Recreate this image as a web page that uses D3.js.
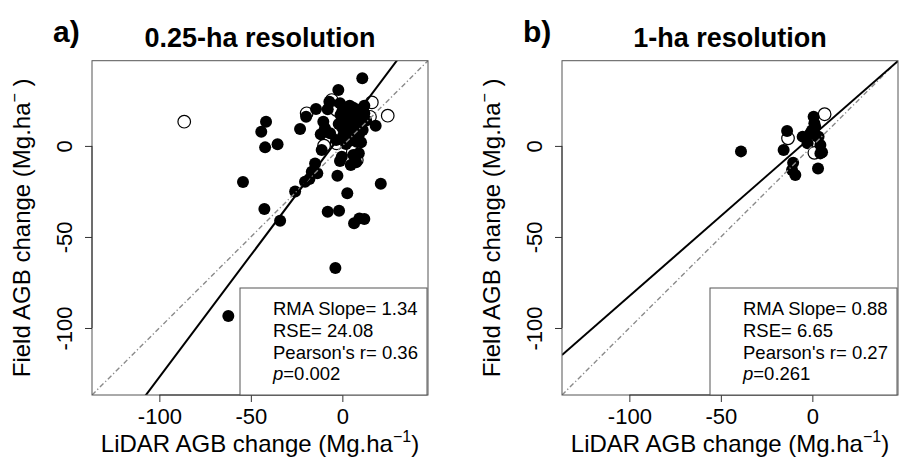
<!DOCTYPE html>
<html>
<head>
<meta charset="utf-8">
<script src="https://cdn.jsdelivr.net/npm/d3@7"></script>
<style>
  body { margin: 0; background: #fff; }
  text { font-family: "Liberation Sans", Arial, Helvetica, sans-serif; fill: #000; }
</style>
</head>
<body>
<div id="vis"></div>
<script>
var w = 899;
var h = 459;

// axis limits (R style, 4% padding added later) and tick values
var lims = [-130, 40];
var tickVals = [-100, -50, 0];

// panel a) 0.25-ha: filled points
var aFilledX = [-41.7, -44.3, -42.2, -35.4, -54.3, -42.6, -34.0, 10.9, -2.2, -19.8, -14.4, -8, -7.1, -1.3, 18.2, 11.1,
  -23.1, -10.4, -9.5, -11.8, -6.7, -11.3, -3.4, 0.6, 7.9, 10.2, 6.9, 4.6, 7.5, -0.3, -1.3, -14.9, -16.7, -13.7, -2.7,
  -18, -20.4, 21, -25.8, 2.7, -8, -1.8, 6.4, 9.3, 12, -3.8, -62.3,
  2, 4, 6, 8, 10, 12, 3, 5, 7, 9, 11, 1, 3, 6, 8, 10, 0, 2, 5, 7, 9, 4, -1, 0, 12, 13, 1, 4, -2, 2, 6, 9];
var aFilledY = [13.3, 7.8, -0.8, 0.9, -19.8, -34.6, -41.1, 37.1, 30.7, 16.0, 20.3, 20.1, 24.3, 23.4, 11.1, 8.7,
  9.3, 13.3, 9.7, 6.4, 6.9, -2.2, 3.2, 6, 2.3, 2.0, 5.1, -10.5, -9.0, -5.9, -8.3, -9.6, -14.2, -15.0, -16.4,
  -18.2, -19.7, -20.8, -25.1, -26.0, -36.1, -35.6, -42.5, -39.8, -40.1, -67, -93.4,
  20, 22, 21, 19, 20, 18, 17, 16, 15, 14, 15, 14, 12, 12, 11, 12, 10, 9, 9, 8, 6, 6, 17, 19, 22, 14, 4, 3, 12, 1, -5, -4];
// panel a) open points
var aOpenX = [-86.4, -5.8, -19.5, -3.1, 16.1, 24.8, 15.1, -10, -3.1, 5.7, 7.9];
var aOpenY = [13.3, 25.2, 17.9, 19.7, 23.9, 16.6, 16.0, 0.1, 1.4, -3.2, -7.7];

// panel b) 1-ha
var bFilledX = [-39, -13.8, -15.7, -5.3, 0.7, 1.1, 1.6, -1.1, -2.6, 2.6, 3.4, 4.4, 5.3, 4.4, 3.1, -10.5, -11.1, -9.3, -0.2];
var bFilledY = [-3.0, 8.2, -2.2, 5.1, 16, 12.4, 10.5, 6.9, 1.4, 5.1, 5.1, 0.5, -3.5, -4.1, -12.4, -9.2, -13.2, -16, 8.5];
var bOpenX = [-13.3, 6.7, 1.1];
var bOpenY = [4.2, 17.4, -3.8];

// RMA fit lines (slope, intercept)
var rmaA = [1.34, 7.0];
var rmaB = [0.88, 5.5];

var statsA = ["RMA Slope= 1.34", "RSE= 24.08", "Pearson's r= 0.36", "0.002"];
var statsB = ["RMA Slope= 0.88", "RSE= 6.65", "Pearson's r= 0.27", "0.261"];

var canvas = d3.select("#vis").append("svg").attr("width", w).attr("height", h);

var pad = (lims[1] - lims[0]) * 0.04;
var dom = [lims[0] - pad, lims[1] + pad];

function drawPanel(off, letter, title, fx, fy, ox, oy, rma, stats, id) {
  var left = 92 + off, right = 428 + off, top = 60.7, bottom = 395;
  var x = d3.scaleLinear().domain(dom).range([left, right]);
  var y = d3.scaleLinear().domain(dom).range([bottom, top]);

  canvas.append("clipPath").attr("id", "clip" + id)
    .append("rect").attr("x", left).attr("y", top).attr("width", right - left).attr("height", bottom - top);

  // points
  var filled = fx.map(function (v, i) { return [v, fy[i]]; });
  var open = ox.map(function (v, i) { return [v, oy[i]]; });
  canvas.append("g").selectAll("circle").data(filled).enter().append("circle")
    .attr("cx", function (d) { return x(d[0]); })
    .attr("cy", function (d) { return y(d[1]); })
    .attr("r", 6)
    .attr("fill", "#000");
  canvas.append("g").selectAll("circle").data(open).enter().append("circle")
    .attr("cx", function (d) { return x(d[0]); })
    .attr("cy", function (d) { return y(d[1]); })
    .attr("r", 6.3)
    .attr("fill", "none")
    .attr("stroke", "#000")
    .attr("stroke-width", 1.2);

  // 1:1 line and RMA line
  var line = d3.line().x(function (d) { return x(d[0]); }).y(function (d) { return y(d[1]); });
  canvas.append("path")
    .attr("d", line([[dom[0], dom[0]], [dom[1], dom[1]]]))
    .attr("clip-path", "url(#clip" + id + ")")
    .attr("stroke", "#8a8a8a").attr("stroke-width", 1.4).attr("fill", "none")
    .attr("stroke-dasharray", "5,2.5,1.2,2.5");
  canvas.append("path")
    .attr("d", line([[dom[0], rma[0] * dom[0] + rma[1]], [dom[1], rma[0] * dom[1] + rma[1]]]))
    .attr("clip-path", "url(#clip" + id + ")")
    .attr("stroke", "#000").attr("stroke-width", 2).attr("fill", "none");

  // box
  canvas.append("rect")
    .attr("x", left).attr("y", top).attr("width", right - left).attr("height", bottom - top)
    .attr("fill", "none").attr("stroke", "#555").attr("stroke-width", 1);

  // axes
  var xAxis = canvas.append("g").attr("transform", "translate(0," + bottom + ")")
    .call(d3.axisBottom(x).tickValues(tickVals).tickSize(7).tickSizeOuter(0).tickFormat(function (d) { return String(d); }));
  xAxis.select(".domain").remove();
  xAxis.selectAll("line").attr("stroke", "#333");
  xAxis.selectAll("text").attr("y", 29).attr("dy", 0).style("font-size", "22px");
  xAxis.append("line").attr("x1", x(-100)).attr("x2", x(0)).attr("stroke", "#333");

  var yAxis = canvas.append("g").attr("transform", "translate(" + left + ",0)")
    .call(d3.axisLeft(y).tickValues(tickVals).tickSize(7).tickSizeOuter(0).tickFormat(function (d) { return String(d); }));
  yAxis.select(".domain").remove();
  yAxis.selectAll("line").attr("stroke", "#333");
  yAxis.selectAll("text").attr("x", 0).attr("dy", 0)
    .attr("transform", "translate(-20,0) rotate(-90)")
    .attr("text-anchor", "middle").style("font-size", "22px");
  yAxis.append("line").attr("y1", y(-100)).attr("y2", y(0)).attr("stroke", "#333");

  // axis titles
  var xl = canvas.append("text").attr("x", (left + right) / 2).attr("y", 452)
    .attr("text-anchor", "middle").style("font-size", "24px")
    .text("LiDAR AGB change (Mg.ha");
  xl.append("tspan").attr("dy", -10).style("font-size", "16px").text("−1");
  xl.append("tspan").attr("dy", 10).text(")");

  var yl = canvas.append("text")
    .attr("transform", "translate(" + (30 + off) + "," + ((top + bottom) / 2) + ") rotate(-90)")
    .attr("text-anchor", "middle").style("font-size", "24px")
    .text("Field AGB change (Mg.ha");
  yl.append("tspan").attr("dy", -10).style("font-size", "16px").text("−");
  yl.append("tspan").attr("dy", 10).text("  )");

  // titles
  canvas.append("text").attr("x", 53 + off).attr("y", 42)
    .style("font-size", "30px").style("font-weight", "bold").text(letter);
  canvas.append("text").attr("x", 260 + off).attr("y", 47).attr("text-anchor", "middle")
    .style("font-size", "27px").style("font-weight", "bold").text(title);

  // stats box
  canvas.append("rect")
    .attr("x", 240 + off).attr("y", 288).attr("width", right - 240 - off - 1).attr("height", bottom - 288)
    .attr("fill", "#fff").attr("stroke", "#555").attr("stroke-width", 1);
  var lineY = [315, 337, 359, 380];
  stats.forEach(function (s, i) {
    var t = canvas.append("text").attr("x", 273 + off).attr("y", lineY[i]).style("font-size", "18.5px");
    if (i === 3) {
      t.append("tspan").style("font-style", "italic").text("p");
      t.append("tspan").text("=" + s);
    } else {
      t.text(s);
    }
  });
}

drawPanel(0, "a)", "0.25-ha resolution", aFilledX, aFilledY, aOpenX, aOpenY, rmaA, statsA, "a");
drawPanel(470, "b)", "1-ha resolution", bFilledX, bFilledY, bOpenX, bOpenY, rmaB, statsB, "b");
</script>
</body>
</html>
